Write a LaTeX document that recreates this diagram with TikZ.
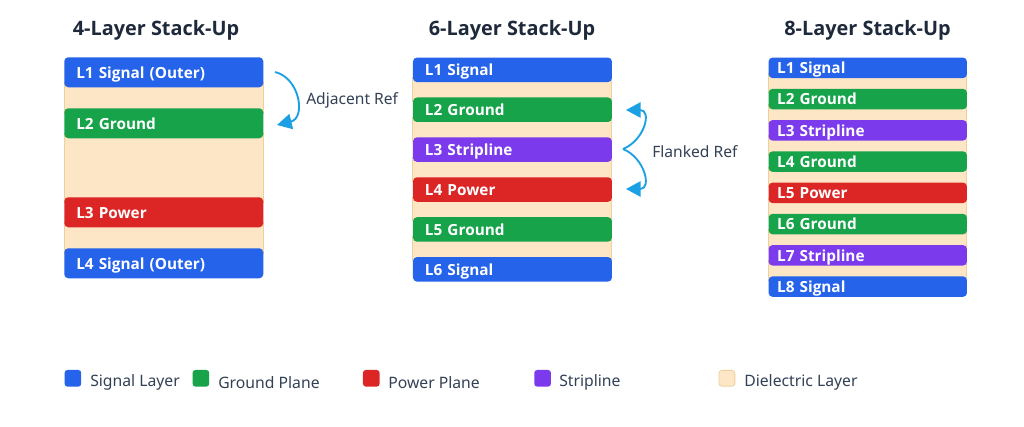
\documentclass[tikz,border=0pt]{standalone}
\usepackage{fontspec}
\setmainfont{Noto Sans}
\newfontfamily\boldfam{Open Sans}
\usetikzlibrary{arrows.meta}
\definecolor{sig}{HTML}{2563EB}
\definecolor{gnd}{HTML}{16A34A}
\definecolor{pwr}{HTML}{DC2626}
\definecolor{strp}{HTML}{7C3AED}
\definecolor{diel}{HTML}{FDE6C6}
\definecolor{dielb}{HTML}{EFCF9A}
\definecolor{titlec}{HTML}{1E293B}
\definecolor{textc}{HTML}{334155}
\definecolor{arrc}{HTML}{1AA0E3}
\tikzset{
  layerbox/.style={rounded corners=3pt, draw=none, anchor=north west, inner ysep=0pt,
    inner xsep=#1, align=left, text=white, font=\boldfam\bfseries\fontsize{11.5pt}{13pt}\selectfont,
    text height=9.3pt, text depth=0.5pt},
  l4/.style={layerbox=9pt, text width=131.25pt, minimum height=22.5pt},
  l6/.style={layerbox=9pt, text width=131.25pt, minimum height=18.4pt},
  l8/.style={layerbox=6.4pt, text width=136pt, minimum height=15.4pt},
  dielbox/.style={fill=diel, draw=dielb, line width=0.6pt},
  titlebox/.style={text=titlec, font=\boldfam\bfseries\fontsize{14.9pt}{17pt}\selectfont, inner sep=0pt},
  reftext/.style={text=textc, font=\fontsize{11.7pt}{14pt}\selectfont, anchor=west, inner sep=0pt},
  legsq/.style={rounded corners=2.2pt, minimum size=12.5pt, inner sep=0pt, anchor=west},
  legtext/.style={text=textc, font=\fontsize{11.8pt}{14pt}\selectfont, anchor=west, inner sep=0pt},
  refarrow/.style={draw=arrc, line width=1.4pt, -{Triangle[length=11pt,width=11.5pt]}},
}
\begin{document}
\begin{tikzpicture}[x=0.75pt,y=-0.75pt]
\useasboundingbox[fill=white] (0,0) rectangle (1024,427);

% ---------- 4-layer ----------
\node[titlebox] (t4) at (156,30) {4-Layer Stack-Up};
\draw[dielbox] (64,82) rectangle (263,113);
\draw[dielbox] (64,133) rectangle (263,202);
\draw[dielbox] (64,222) rectangle (263,253);
\node[l4, fill=sig] (a1) at (64,57) {L1 Signal (Outer)};
\node[l4, fill=gnd] (a2) at (64,108) {L2 Ground};
\node[l4, fill=pwr] (a3) at (64,197) {L3 Power};
\node[l4, fill=sig] (a4) at (64,248) {L4 Signal (Outer)};
\coordinate (adjs) at (275,72);
\coordinate (adje) at (277,125);
\draw[refarrow] (adjs) .. controls (300,78) and (306,118) .. (adje);
\node[reftext] (adjl) at (306,100) {Adjacent Ref};

% ---------- 6-layer ----------
\node[titlebox] (t6) at (512,30) {6-Layer Stack-Up};
\foreach \i in {0,...,4}{
  \draw[dielbox] (412.7,{57.3+39.9*\i+20}) rectangle (611.7,{57.3+39.9*(\i+1)+4});
}
\node[l6, fill=sig]  (b1) at (412.7,57.3) {L1 Signal};
\node[l6, fill=gnd]  (b2) at (412.7,97.2) {L2 Ground};
\node[l6, fill=strp] (b3) at (412.7,137.1) {L3 Stripline};
\node[l6, fill=pwr]  (b4) at (412.7,177.0) {L4 Power};
\node[l6, fill=gnd]  (b5) at (412.7,216.9) {L5 Ground};
\node[l6, fill=sig]  (b6) at (412.7,256.8) {L6 Signal};
\coordinate (flm) at (623,149);
\coordinate (flu) at (626,110);
\coordinate (fld) at (626,189);
\draw[refarrow] (flm) .. controls (645,140) and (652,110) .. (flu);
\draw[refarrow] (flm) .. controls (645,158) and (652,189) .. (fld);
\node[reftext] (fll) at (652,152) {Flanked Ref};

% ---------- 8-layer ----------
\node[titlebox] (t8) at (867.5,30) {8-Layer Stack-Up};
\foreach \i in {0,...,6}{
  \draw[dielbox] (768.3,{57.3+31.25*\i+16}) rectangle (966.7,{57.3+31.25*(\i+1)+4});
}
\node[l8, fill=sig]  (c1) at (768.3,57.3) {L1 Signal};
\node[l8, fill=gnd]  (c2) at (768.3,88.55) {L2 Ground};
\node[l8, fill=strp] (c3) at (768.3,119.8) {L3 Stripline};
\node[l8, fill=gnd]  (c4) at (768.3,151.05) {L4 Ground};
\node[l8, fill=pwr]  (c5) at (768.3,182.3) {L5 Power};
\node[l8, fill=gnd]  (c6) at (768.3,213.55) {L6 Ground};
\node[l8, fill=strp] (c7) at (768.3,244.8) {L7 Stripline};
\node[l8, fill=sig]  (c8) at (768.3,276.05) {L8 Signal};

% ---------- legend ----------
\node[legsq, fill=sig]  (k1) at (64.3,378.3) {};
\node[legtext] (k1t) at (90,382.5) {Signal Layer};
\node[legsq, fill=gnd]  (k2) at (192.3,378.3) {};
\node[legtext] (k2t) at (218,382.5) {Ground Plane};
\node[legsq, fill=pwr]  (k3) at (362.7,378.3) {};
\node[legtext] (k3t) at (388,382.5) {Power Plane};
\node[legsq, fill=strp] (k4) at (534,378.3) {};
\node[legtext] (k4t) at (559,382.5) {Stripline};
\node[legsq, fill=diel, draw=dielb, line width=0.6pt, minimum size=11.9pt] (k5) at (718.6,378.3) {};
\node[legtext] (k5t) at (744,382.5) {Dielectric Layer};
\end{tikzpicture}
\end{document}
